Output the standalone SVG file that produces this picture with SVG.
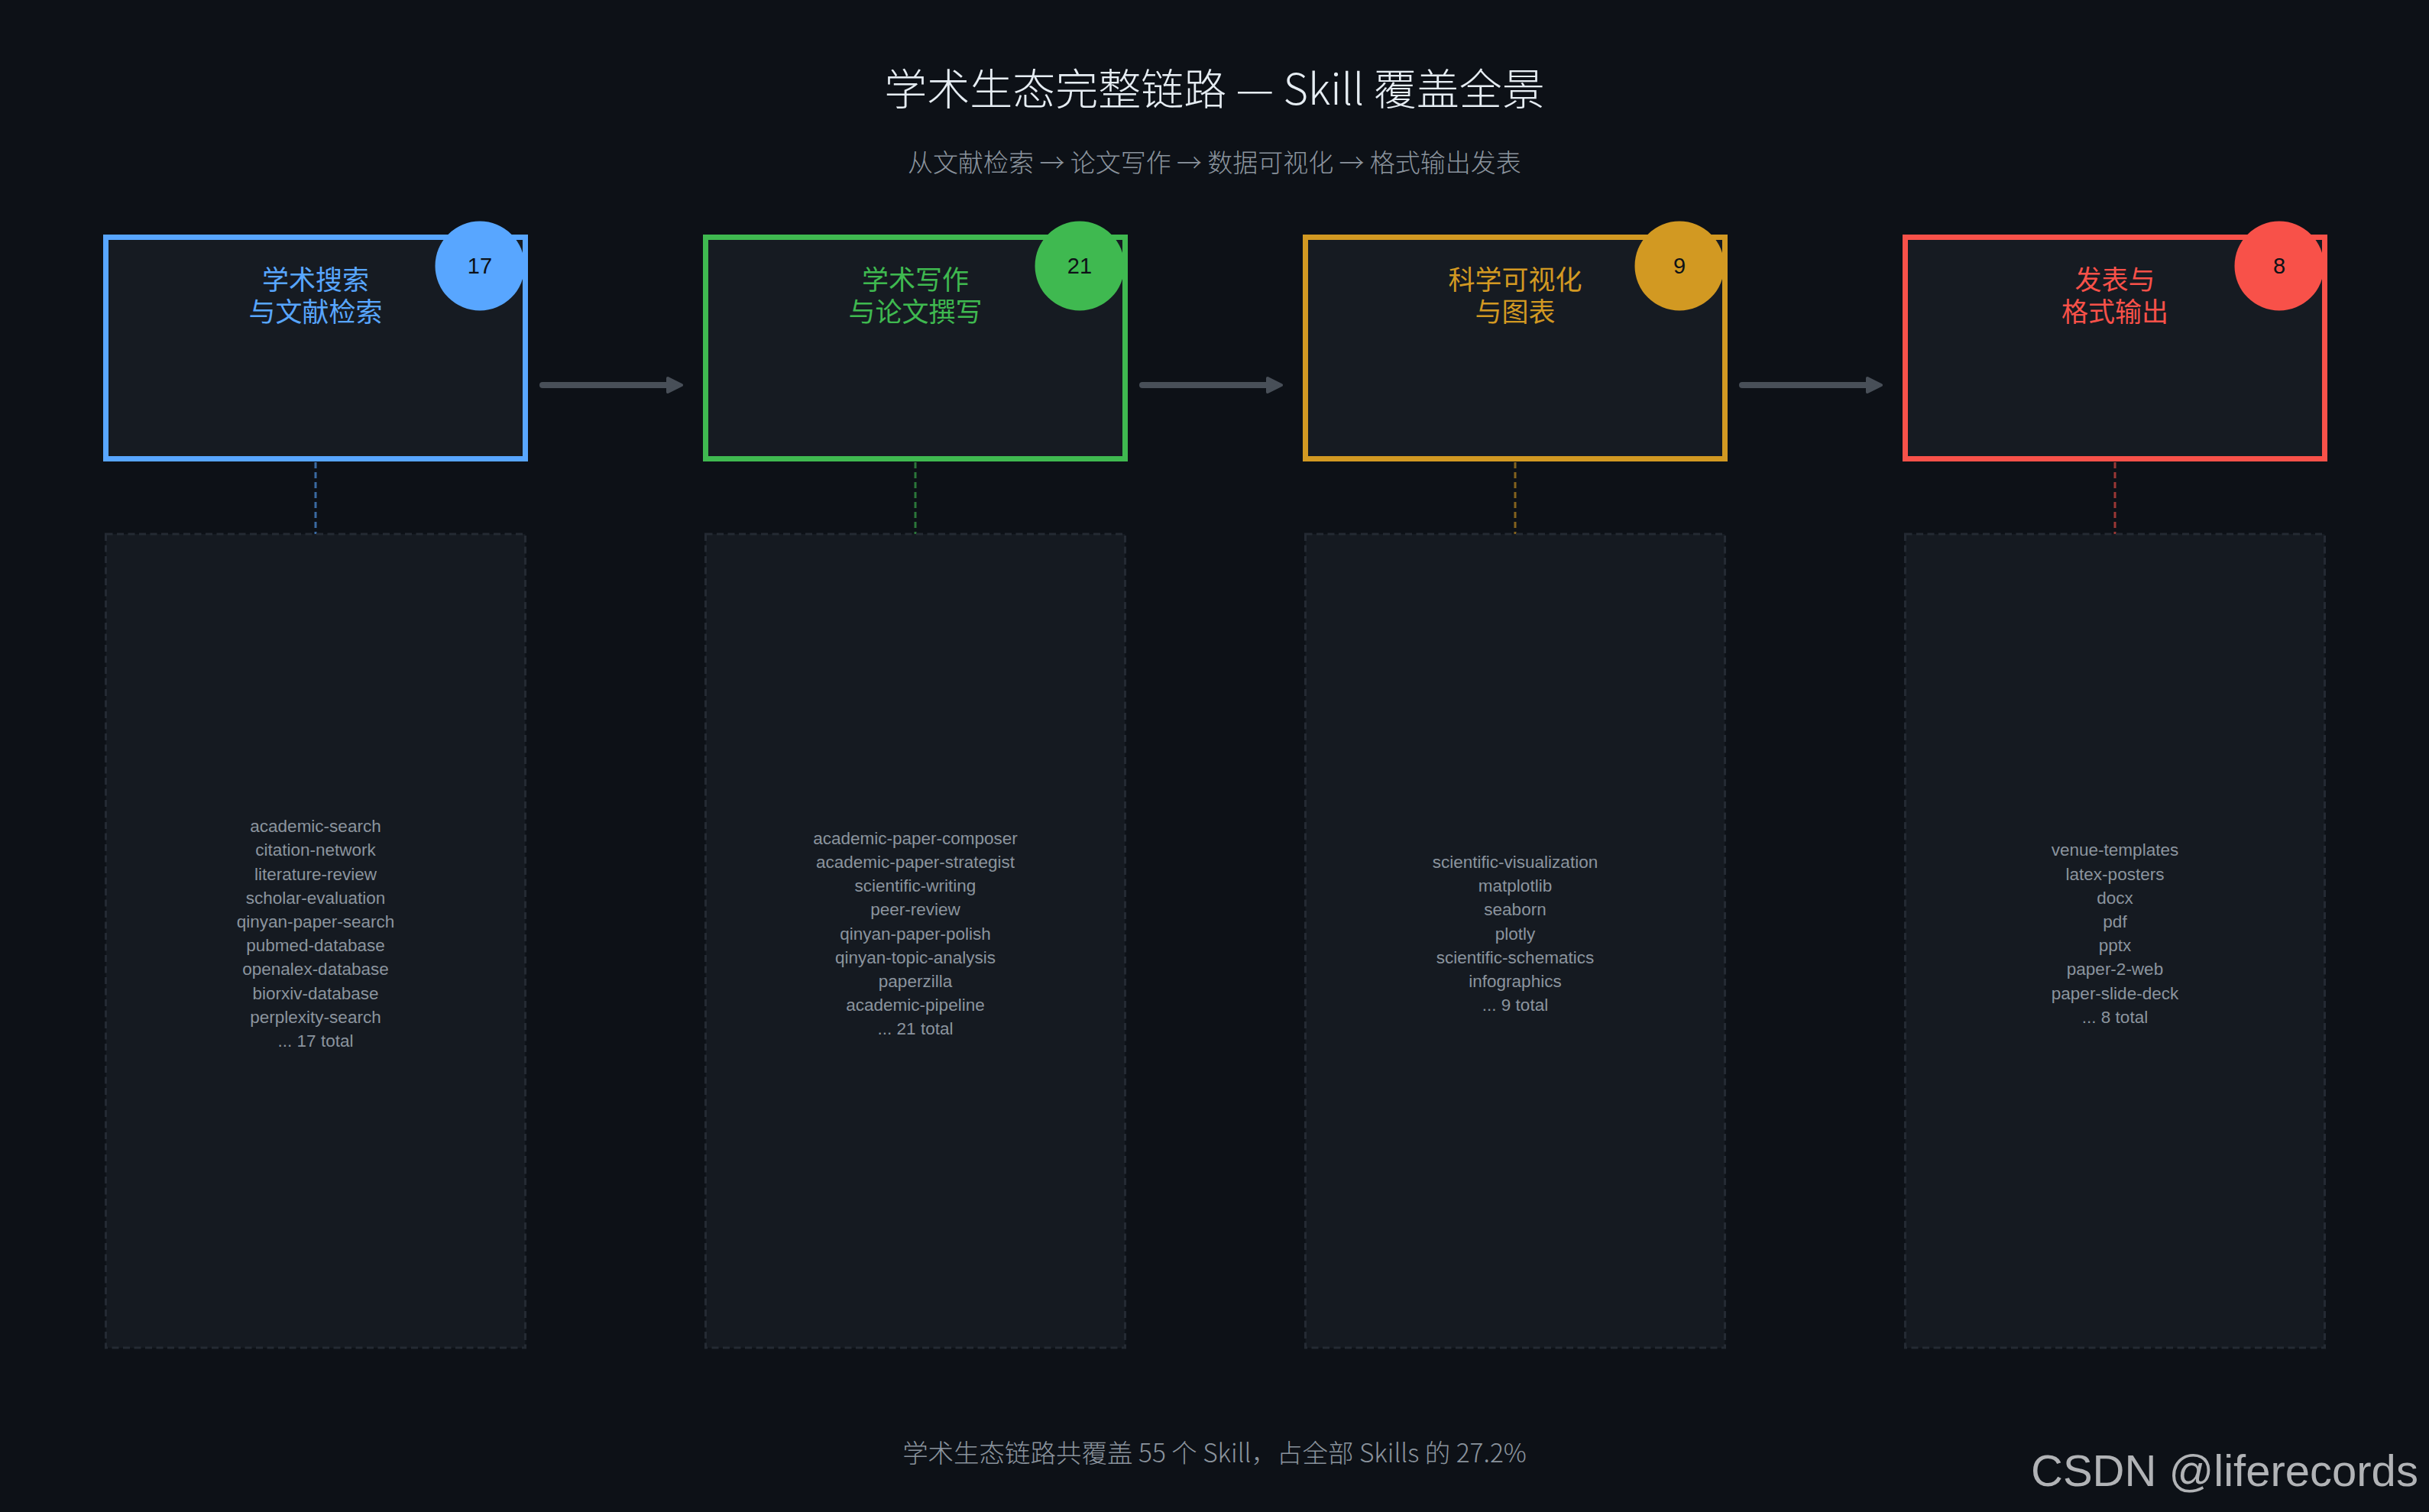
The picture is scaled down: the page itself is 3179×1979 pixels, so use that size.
<svg xmlns="http://www.w3.org/2000/svg" width="3179" height="1979" viewBox="0 0 3179 1979">
<style>
.cjk{font-family:"Noto Sans CJK SC","Noto Sans",sans-serif;font-weight:300}
.title{font-size:56px;fill:#e6edf3;text-anchor:middle}
.sub{font-size:33px;fill:#8b949e;text-anchor:middle}
.lbl{font-size:35px;text-anchor:middle;font-weight:400}
.box{fill:#161b22;stroke-width:7}
.num{font-family:"Liberation Sans",Arial,sans-serif;font-size:29px;fill:#0d1117;text-anchor:middle}
.panel{fill:#151a21;stroke:#242a33;stroke-width:3;stroke-dasharray:9 5.5}
.list{font-family:"Liberation Sans",Arial,sans-serif;font-size:22.5px;fill:#8b949e;text-anchor:middle}
.vlink{stroke-width:3;stroke-dasharray:8 5;opacity:0.6}
.arrow{stroke:#484f58;stroke-width:8;stroke-linecap:round;fill:none}
.foot{font-size:33.5px;fill:#8b949e;text-anchor:middle}
.wm{font-family:"Liberation Sans",Arial,sans-serif;font-size:58px;fill:#b1b3b6}
</style>
<defs>
<marker id="ah" markerUnits="userSpaceOnUse" markerWidth="30" markerHeight="30" viewBox="0 0 30 30" refX="6" refY="15" orient="auto">
<path d="M4,6 L22,15 L4,24 Z" fill="#484f58" stroke="#484f58" stroke-width="4" stroke-linejoin="round"/>
</marker>
</defs>
<rect x="0" y="0" width="3179" height="1979" fill="#0d1117"/>
<text class="cjk title" x="1589.5" y="137">学术生态完整链路 — Skill 覆盖全景</text>
<text class="cjk sub" x="1589.5" y="225">从文献检索 → 论文写作 → 数据可视化 → 格式输出发表</text>

<g id="connectors">
<path class="arrow" d="M710,504 L876,504" marker-end="url(#ah)"/>
<path class="arrow" d="M1495,504 L1661,504" marker-end="url(#ah)"/>
<path class="arrow" d="M2280,504 L2446,504" marker-end="url(#ah)"/>
<line class="vlink" x1="413" y1="605" x2="413" y2="699" stroke="#58a6ff"/>
<line class="vlink" x1="1198" y1="605" x2="1198" y2="699" stroke="#3fb950"/>
<line class="vlink" x1="1983" y1="605" x2="1983" y2="699" stroke="#d29922"/>
<line class="vlink" x1="2768" y1="605" x2="2768" y2="699" stroke="#f85149"/>
</g>

<g id="node-search">
<rect class="box" x="138.5" y="310.5" width="549" height="290" stroke="#58a6ff"/>
<text class="cjk lbl" x="413" y="379" fill="#58a6ff"><tspan x="413">学术搜索</tspan><tspan x="413" dy="42">与文献检索</tspan></text>
<circle cx="628" cy="348" r="58.5" fill="#58a6ff"/>
<text class="num" x="628" y="358">17</text>
</g>
<g id="list-search">
<rect class="panel" x="138.5" y="699" width="549" height="1065"/>
<text class="list" x="413" y="1089.1"><tspan x="413">academic-search</tspan><tspan x="413" dy="31.2">citation-network</tspan><tspan x="413" dy="31.2">literature-review</tspan><tspan x="413" dy="31.2">scholar-evaluation</tspan><tspan x="413" dy="31.2">qinyan-paper-search</tspan><tspan x="413" dy="31.2">pubmed-database</tspan><tspan x="413" dy="31.2">openalex-database</tspan><tspan x="413" dy="31.2">biorxiv-database</tspan><tspan x="413" dy="31.2">perplexity-search</tspan><tspan x="413" dy="31.2">... 17 total</tspan></text>
</g>

<g id="node-writing">
<rect class="box" x="923.5" y="310.5" width="549" height="290" stroke="#3fb950"/>
<text class="cjk lbl" x="1198" y="379" fill="#3fb950"><tspan x="1198">学术写作</tspan><tspan x="1198" dy="42">与论文撰写</tspan></text>
<circle cx="1413" cy="348" r="58.5" fill="#3fb950"/>
<text class="num" x="1413" y="358">21</text>
</g>
<g id="list-writing">
<rect class="panel" x="923.5" y="699" width="549" height="1065"/>
<text class="list" x="1198" y="1104.7"><tspan x="1198">academic-paper-composer</tspan><tspan x="1198" dy="31.2">academic-paper-strategist</tspan><tspan x="1198" dy="31.2">scientific-writing</tspan><tspan x="1198" dy="31.2">peer-review</tspan><tspan x="1198" dy="31.2">qinyan-paper-polish</tspan><tspan x="1198" dy="31.2">qinyan-topic-analysis</tspan><tspan x="1198" dy="31.2">paperzilla</tspan><tspan x="1198" dy="31.2">academic-pipeline</tspan><tspan x="1198" dy="31.2">... 21 total</tspan></text>
</g>

<g id="node-visualization">
<rect class="box" x="1708.5" y="310.5" width="549" height="290" stroke="#d29922"/>
<text class="cjk lbl" x="1983" y="379" fill="#d29922"><tspan x="1983">科学可视化</tspan><tspan x="1983" dy="42">与图表</tspan></text>
<circle cx="2198" cy="348" r="58.5" fill="#d29922"/>
<text class="num" x="2198" y="358">9</text>
</g>
<g id="list-visualization">
<rect class="panel" x="1708.5" y="699" width="549" height="1065"/>
<text class="list" x="1983" y="1135.9"><tspan x="1983">scientific-visualization</tspan><tspan x="1983" dy="31.2">matplotlib</tspan><tspan x="1983" dy="31.2">seaborn</tspan><tspan x="1983" dy="31.2">plotly</tspan><tspan x="1983" dy="31.2">scientific-schematics</tspan><tspan x="1983" dy="31.2">infographics</tspan><tspan x="1983" dy="31.2">... 9 total</tspan></text>
</g>

<g id="node-publish">
<rect class="box" x="2493.5" y="310.5" width="549" height="290" stroke="#f85149"/>
<text class="cjk lbl" x="2768" y="379" fill="#f85149"><tspan x="2768">发表与</tspan><tspan x="2768" dy="42">格式输出</tspan></text>
<circle cx="2983" cy="348" r="58.5" fill="#f85149"/>
<text class="num" x="2983" y="358">8</text>
</g>
<g id="list-publish">
<rect class="panel" x="2493.5" y="699" width="549" height="1065"/>
<text class="list" x="2768" y="1120.3"><tspan x="2768">venue-templates</tspan><tspan x="2768" dy="31.2">latex-posters</tspan><tspan x="2768" dy="31.2">docx</tspan><tspan x="2768" dy="31.2">pdf</tspan><tspan x="2768" dy="31.2">pptx</tspan><tspan x="2768" dy="31.2">paper-2-web</tspan><tspan x="2768" dy="31.2">paper-slide-deck</tspan><tspan x="2768" dy="31.2">... 8 total</tspan></text>
</g>

<text class="cjk foot" x="1589.5" y="1914">学术生态链路共覆盖 55 个 Skill，占全部 Skills 的 27.2%</text>
<text class="wm" x="2658" y="1945">CSDN @liferecords</text>
</svg>
